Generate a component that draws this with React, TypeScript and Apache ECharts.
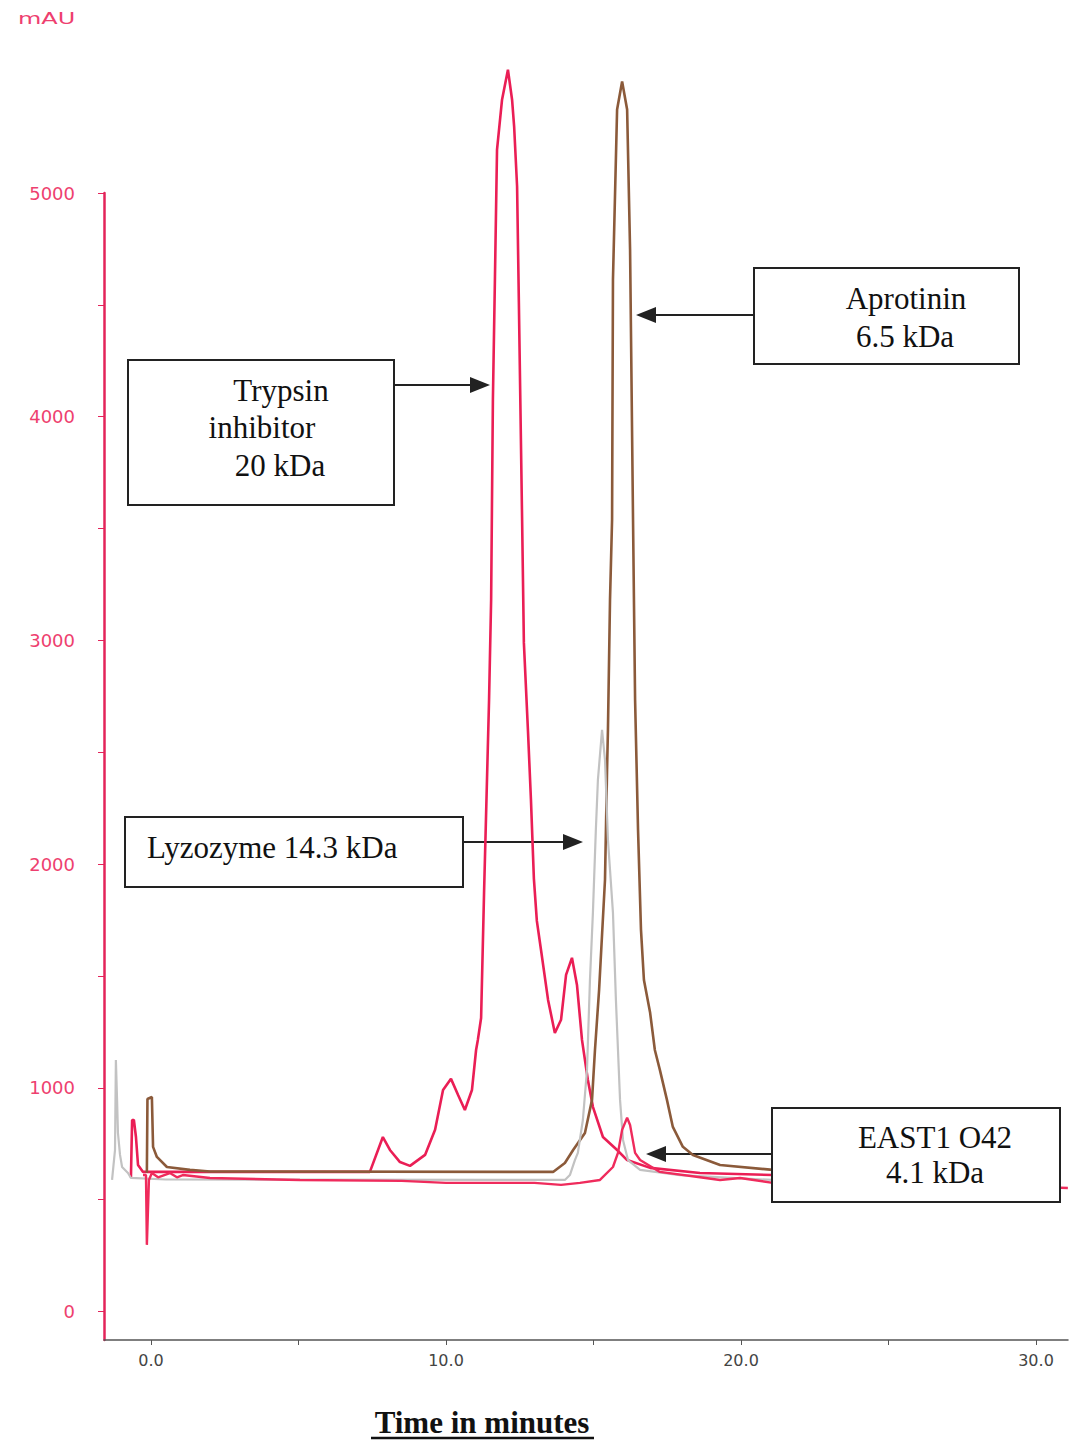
import React, { useEffect, useRef } from "react";
import * as echarts from "echarts";

// ---- data (time in minutes, absorbance in mAU) ----
const trypsinInhibitor: [number, number][] = [
  [-0.68, 600], [-0.64, 856], [-0.58, 856], [-0.51, 780], [-0.44, 655], [-0.27, 624],
  [0.5, 624], [3.0, 624], [7.42, 624], [7.86, 780], [8.1, 722], [8.44, 668], [8.78, 651],
  [9.29, 700], [9.63, 812], [9.9, 990], [10.17, 1040], [10.41, 968], [10.64, 901],
  [10.88, 990], [11.02, 1169], [11.08, 1214], [11.19, 1312], [11.29, 1871], [11.46, 2735],
  [11.53, 3182], [11.59, 4076], [11.66, 4626], [11.73, 5194], [11.9, 5417], [12.1, 5551],
  [12.24, 5417], [12.31, 5297], [12.41, 5029], [12.47, 4514], [12.58, 3540], [12.64, 2990],
  [12.78, 2592], [12.88, 2287], [12.98, 1934], [13.08, 1746], [13.22, 1617], [13.46, 1393],
  [13.69, 1245], [13.9, 1304], [14.07, 1505], [14.27, 1581], [14.44, 1460], [14.61, 1214],
  [14.81, 1035], [14.98, 915], [15.32, 780], [15.8, 722], [16.14, 677], [16.92, 642],
  [18.61, 619], [21.08, 610], [30.0, 597],
];

const aprotinin: [number, number][] = [
  [-0.14, 620], [-0.12, 950], [0.03, 959], [0.07, 736], [0.2, 691], [0.54, 646],
  [1.32, 633], [2.0, 626], [13.63, 624], [14.03, 664], [14.31, 722], [14.71, 798],
  [14.95, 946], [15.05, 1169], [15.19, 1438], [15.39, 1930], [15.46, 2422], [15.49, 2600],
  [15.56, 3182], [15.63, 3540], [15.66, 4613], [15.8, 5373], [15.97, 5498], [16.14, 5373],
  [16.24, 4747], [16.34, 3540], [16.41, 2735], [16.51, 2153], [16.61, 1706], [16.71, 1482],
  [16.92, 1335], [17.08, 1169], [17.25, 1080], [17.49, 946], [17.69, 825], [18.03, 736],
  [18.37, 700], [19.29, 655], [21.08, 633], [30.0, 624],
];

const lysozyme: [number, number][] = [
  [-1.32, 588], [-1.22, 722], [-1.19, 1124], [-1.15, 946], [-1.12, 798], [-1.05, 700],
  [-0.98, 646], [-0.78, 619], [-0.68, 597], [0.5, 590], [14.03, 588], [14.2, 610],
  [14.37, 677], [14.47, 709], [14.64, 856], [14.78, 1080], [14.88, 1482], [14.98, 1782],
  [15.08, 2153], [15.15, 2377], [15.29, 2600], [15.39, 2466], [15.49, 2109], [15.66, 1782],
  [15.76, 1393], [15.83, 1169], [15.9, 946], [16.0, 767], [16.17, 677], [16.58, 633],
  [17.93, 610], [21.08, 588], [30.0, 570],
];

const east1O42: [number, number][] = [
  [-0.27, 610], [-0.17, 610], [-0.14, 298], [-0.07, 588], [0.03, 619], [0.24, 600],
  [0.64, 619], [0.88, 600], [1.08, 610], [2.0, 597], [5.05, 588], [8.5, 584], [10.0, 575],
  [13.0, 575], [13.9, 566], [14.54, 575], [15.22, 588], [15.66, 646], [15.83, 709],
  [15.97, 812], [16.14, 866], [16.24, 834], [16.41, 709], [16.58, 677], [17.25, 624],
  [18.61, 600], [19.29, 588], [19.97, 597], [21.08, 575], [30.0, 557], [31.08, 552],
];

const yTickValues = [0, 500, 1000, 1500, 2000, 2500, 3000, 3500, 4000, 4500, 5000];
const yLabelValues = [0, 1000, 2000, 3000, 4000, 5000];
const xTickValues = [0, 5, 10, 15, 20, 25, 30];
const xLabelValues = [0, 10, 20, 30];

const PINK = "#ee3f6f";
const SERIF = "'Liberation Serif', 'Times New Roman', serif";

function arrow(x1: number, y: number, tipX: number) {
  const dir = tipX > x1 ? 1 : -1;
  const headLen = 20;
  const headHalf = 8;
  return {
    type: "group",
    z: 110,
    children: [
      {
        type: "line",
        shape: { x1, y1: y, x2: tipX - dir * headLen, y2: y },
        style: { stroke: "#222", lineWidth: 2 },
      },
      {
        type: "polygon",
        shape: {
          points: [
            [tipX, y],
            [tipX - dir * headLen, y - headHalf],
            [tipX - dir * headLen, y + headHalf],
          ],
        },
        style: { fill: "#222" },
      },
    ],
  };
}

function box(x: number, y: number, w: number, h: number) {
  return {
    type: "rect",
    z: 100,
    shape: { x, y, width: w, height: h },
    style: { fill: "#fff", stroke: "#222", lineWidth: 2 },
  };
}

function label(text: string, x: number, y: number, align: string = "center") {
  return {
    type: "text",
    z: 120,
    x,
    y,
    style: {
      text,
      fill: "#111",
      font: `31px ${SERIF}`,
      align,
      verticalAlign: "middle",
    },
  };
}

export default function App() {
  const ref = useRef<HTMLDivElement>(null);

  useEffect(() => {
    if (!ref.current) return;
    const chart = echarts.init(ref.current, undefined, { renderer: "svg" });
    const lineSeries = (name: string, data: [number, number][], color: string, width: number, z: number) => ({
      name,
      type: "line",
      data,
      showSymbol: false,
      symbol: "none",
      clip: false,
      z,
      lineStyle: { color, width },
      emphasis: { disabled: true },
    });

    chart.setOption({
      animation: false,
      backgroundColor: "#fff",
      grid: { left: 104, right: 1, top: 193, bottom: 101, containLabel: false },
      xAxis: {
        type: "value",
        min: -1.593,
        max: 31.085,
        axisLine: { show: true, onZero: false, lineStyle: { color: "#555", width: 1.5 } },
        axisTick: { show: true, customValues: xTickValues, length: 5, lineStyle: { color: "#555" } },
        axisLabel: {
          customValues: xLabelValues,
          formatter: (v: number) => v.toFixed(1),
          color: "#444",
          fontFamily: "'DejaVu Sans', sans-serif",
          fontSize: 16,
          margin: 12,
        },
        splitLine: { show: false },
      },
      yAxis: {
        type: "value",
        min: -127.4,
        max: 5000,
        axisLine: { show: true, onZero: false, lineStyle: { color: "#e3245a", width: 2.5 } },
        axisTick: { show: true, customValues: yTickValues, length: 6, lineStyle: { color: "#e3245a" } },
        axisLabel: {
          customValues: yLabelValues,
          formatter: (v: number) => String(v),
          color: PINK,
          fontFamily: "'DejaVu Sans', sans-serif",
          fontSize: 18,
          margin: 29,
        },
        splitLine: { show: false },
      },
      series: [
        lineSeries("Trypsin inhibitor 20 kDa", trypsinInhibitor, "#ea1e55", 2.6, 2),
        lineSeries("Aprotinin 6.5 kDa", aprotinin, "#8b5a3a", 2.6, 3),
        lineSeries("Lyzozyme 14.3 kDa", lysozyme, "#c2c2c2", 2.2, 4),
        lineSeries("EAST1 O42 4.1 kDa", east1O42, "#ef2b5c", 2.4, 5),
      ],
      graphic: [
        {
          type: "text",
          x: 18,
          y: 19,
          scaleX: 1.5,
          style: { text: "mAU", fill: PINK, font: "16px 'DejaVu Sans', sans-serif", verticalAlign: "middle" },
        },
        // Trypsin inhibitor
        box(128, 360, 266, 145),
        label("Trypsin", 281, 390),
        label("inhibitor", 262, 427),
        label("20 kDa", 280, 465),
        arrow(394, 385, 490),
        // Aprotinin
        box(754, 268, 265, 96),
        label("Aprotinin", 906, 298),
        label("6.5 kDa", 905, 336),
        arrow(754, 315, 636),
        // Lyzozyme
        box(125, 817, 338, 70),
        label("Lyzozyme 14.3 kDa", 147, 847, "left"),
        arrow(463, 842, 583),
        // EAST1 O42
        box(772, 1108, 288, 94),
        label("EAST1 O42", 935, 1137),
        label("4.1 kDa", 935, 1172),
        arrow(772, 1154, 646),
        // x-axis title
        {
          type: "text",
          x: 482,
          y: 1422,
          style: {
            text: "Time in minutes",
            fill: "#111",
            font: `bold 31px ${SERIF}`,
            align: "center",
            verticalAlign: "middle",
          },
        },
        {
          type: "line",
          shape: { x1: 371, y1: 1438, x2: 594, y2: 1438 },
          style: { stroke: "#111", lineWidth: 2.5 },
        },
      ],
    });
    return () => chart.dispose();
  }, []);

  return (
    <div
      ref={ref}
      style={{ position: "absolute", left: 0, top: 0, width: 1069, height: 1441, background: "#fff" }}
    />
  );
}
